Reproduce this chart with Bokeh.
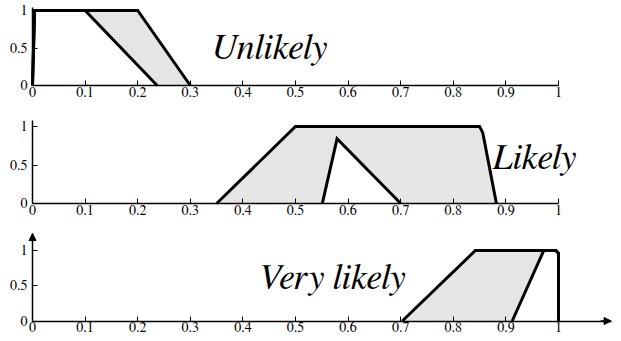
from bokeh.plotting import figure
from bokeh.layouts import column
from bokeh.models import FixedTicker, Arrow, NormalHead, Range1d
from bokeh.core.properties import value
from bokeh.embed import file_html
from bokeh.resources import INLINE

# ---- data ----
x_ticks = [0, 0.1, 0.2, 0.3, 0.4, 0.5, 0.6, 0.7, 0.8, 0.9, 1]
x_tick_labels = ["0", "0.1", "0.2", "0.3", "0.4", "0.5", "0.6", "0.7", "0.8", "0.9", "1"]
y_ticks = [0, 0.5, 1]
y_tick_labels = ["0", "0.5", "1"]

# Unlikely
unlikely_upper_x = [0, 0.004, 0.2, 0.3]
unlikely_upper_y = [0, 1, 1, 0]
unlikely_lower_x = [0, 0.004, 0.1, 0.237]
unlikely_lower_y = [0, 1, 1, 0]

# Likely
likely_upper_x = [0.35, 0.5, 0.85, 0.856, 0.882]
likely_upper_y = [0, 1, 1, 0.92, 0]
likely_lower_x = [0.551, 0.579, 0.70]
likely_lower_y = [0, 0.84, 0]

# Very likely
vlikely_upper_x = [0.703, 0.842, 0.995, 1.0, 1.0]
vlikely_upper_y = [0, 1, 1, 0.96, 0]
vlikely_lower_x = [0.912, 0.972, 0.995, 1.0, 1.0]
vlikely_lower_y = [0, 1, 1, 0.96, 0]

labels = ["Unlikely", "Likely", "Very likely"]
label_x = [0.340, 0.874, 0.428]
label_y = [0.50, 0.59, 0.61]

FONT = "FreeSerif"
FILL = "#e5e5e5"

# layout (page px): x=0 at 32, x=1 at 558
PX = 526.0
X0 = 32.0
W = 621
xr = ((0 - X0) / PX, (W - X0) / PX)

panels = [
    (unlikely_upper_x, unlikely_upper_y, unlikely_lower_x, unlikely_lower_y, 0, 112, 85.0, 10.0, 1.0, False, 1.04),
    (likely_upper_x, likely_upper_y, likely_lower_x, likely_lower_y, 112, 114, 203.0, 126.0, 1.0, False, 1.08),
    (vlikely_upper_x, vlikely_upper_y, vlikely_lower_x, vlikely_lower_y, 226, 115, 320.5, 250.0, 1.1, True, 1.24),
]

figs = []
for i, (ux, uy, lx, ly, top, h, y0, y1, xend, arrows, ytop) in enumerate(panels):
    py = y0 - y1
    yr = ((y0 - (top + h)) / py, (y0 - top) / py)
    p = figure(width=W, height=h, x_range=Range1d(*xr), y_range=Range1d(*yr),
               output_backend="svg", toolbar_location=None,
               min_border=0, min_border_left=0, min_border_right=0,
               min_border_top=0, min_border_bottom=0)
    p.outline_line_color = None
    p.xgrid.visible = False
    p.ygrid.visible = False
    p.background_fill_color = "white"
    p.border_fill_color = "white"

    p.patch(ux, uy, fill_color=FILL, line_color=None)
    p.patch(lx, ly, fill_color="white", line_color=None)
    p.line(ux, uy, line_color="black", line_width=3, line_join="miter")
    p.line(lx, ly, line_color="black", line_width=3, line_join="miter")

    p.text(x=[label_x[i]], y=[label_y[i]], text=[labels[i]],
           text_font=value(FONT), text_font_style="italic", text_font_size="36px",
           text_baseline="alphabetic", text_align="left", text_color="black")

    for ax in p.xaxis:
        ax.fixed_location = 0
        ax.ticker = FixedTicker(ticks=x_ticks)
        ax.major_label_overrides = {t: s for t, s in zip(x_ticks, x_tick_labels)}
        ax.minor_tick_line_color = None
        ax.major_tick_in = 5
        ax.major_tick_out = 0
        ax.major_label_standoff = 2
        ax.major_label_text_font = FONT
        ax.major_label_text_font_size = "14px"
        ax.major_label_text_color = "black"
        ax.axis_line_color = "black"
        ax.axis_line_width = 1.5
        ax.major_tick_line_color = "black"
        ax.bounds = (0, xend)
    for ax in p.yaxis:
        ax.fixed_location = 0
        ax.ticker = FixedTicker(ticks=y_ticks)
        ax.major_label_overrides = {t: s for t, s in zip(y_ticks, y_tick_labels)}
        ax.minor_tick_line_color = None
        ax.major_tick_in = 5
        ax.major_tick_out = 0
        ax.major_label_standoff = 5
        ax.major_label_text_font = FONT
        ax.major_label_text_font_size = "14px"
        ax.major_label_text_color = "black"
        ax.axis_line_color = "black"
        ax.axis_line_width = 1.5
        ax.major_tick_line_color = "black"
        ax.bounds = (0, ytop)

    if arrows:
        p.add_layout(Arrow(end=NormalHead(size=7, fill_color="black", line_color="black"),
                           x_start=xend - 0.02, y_start=0, x_end=xend, y_end=0,
                           line_color="black", line_width=1.5))
        p.add_layout(Arrow(end=NormalHead(size=7, fill_color="black", line_color="black"),
                           x_start=0, y_start=ytop - 0.05, x_end=0, y_end=ytop,
                           line_color="black", line_width=1.5))
    figs.append(p)

layout = column(*figs, spacing=0)
open("out.html", "w").write(file_html(layout, INLINE))
